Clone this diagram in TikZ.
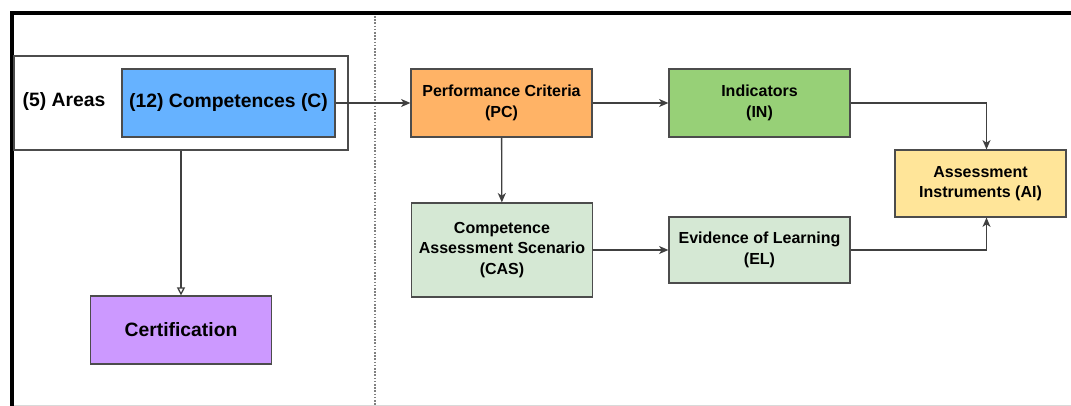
\documentclass[tikz,border=0pt]{standalone}
\usepackage{fontspec}
\setmainfont{Liberation Sans}
\usepackage{tikz}
\usetikzlibrary{positioning, arrows.meta}

\definecolor{compblue}{HTML}{66B2FF}
\definecolor{pcorange}{HTML}{FFB366}
\definecolor{ingreen}{HTML}{97D077}
\definecolor{palegreen}{HTML}{D5E8D4}
\definecolor{aiyellow}{HTML}{FFE599}
\definecolor{certpurple}{HTML}{CC99FF}

\begin{document}
\begin{tikzpicture}[x=0.75pt, y=-0.75pt]

	\tikzset{flow box/.style={
			draw=black!70,
			line width=0.9pt,
			minimum width=#1,
			minimum height=51pt,
			align=center,
			inner sep=0pt,
			font=\fontsize{12}{15.5}\selectfont\bfseries
		},
		flow box/.default=135.75pt,
		big text/.style={font=\fontsize{14.5}{17}\selectfont\bfseries},
		flow arrow/.style={draw=black!75, line width=1pt,
			-{Stealth[length=7pt,width=6pt,inset=2pt]}},
		open arrow/.style={draw=black!75, line width=1pt,
			-{Triangle[open,length=6pt,width=6pt]}}
	}

	\useasboundingbox (0,0) rectangle (1071,406);

	% frame
	\draw[gray!30, line width=0.75pt] (14,405) -- (1071,405);
	\draw[line width=3.6pt] (12,406) -- (12,13) -- (1071,13);
	\coordinate (divtop) at (375,16);
	\coordinate (divbot) at (375,406);
	\draw[gray, line width=1.2pt, dash pattern=on 1.2pt off 1.2pt] (divtop) -- (divbot);

	% left part
	\node[flow box=250.5pt, minimum height=70.5pt, fill=white] (areas) at (181,103) {};
	\node[big text] (areaslabel) at (64,102) {(5) Areas};
	\node[flow box=159.75pt, big text, fill=compblue] (comp) at (228.5,103) {(12) Competences (C)};
	\node[flow box, fill=certpurple, big text] (cert) at (181,330) {Certification};

	% right part
	\node[flow box, fill=pcorange] (pc) at (501.5,103) {Performance Criteria\\(PC)};
	\node[flow box, fill=ingreen] (in) at (759.5,103) {Indicators\\(IN)};
	\node[flow box, minimum height=70.5pt, fill=palegreen] (cas) at (502,250) {Competence\\Assessment Scenario\\(CAS)};
	\node[flow box, minimum height=49.5pt, fill=palegreen] (el) at (759.5,250) {Evidence of Learning\\(EL)};
	\node[flow box=128.25pt, minimum height=50.25pt, fill=aiyellow] (ai) at (980.5,183.5) {Assessment\\Instruments (AI)};

	% connectors
	\draw[flow arrow] (comp.east) -- (pc.west);
	\draw[flow arrow] (pc) -- (in);
	\draw[flow arrow] (pc) -- (cas);
	\draw[flow arrow] (cas) -- (el);
	\draw[flow arrow] (in.east) -| ([xshift=4.5pt]ai.north);
	\draw[flow arrow] (el.east) -| ([xshift=4.5pt]ai.south);
	\draw[open arrow] (areas.south) -- (cert.north);

\end{tikzpicture}
\end{document}
